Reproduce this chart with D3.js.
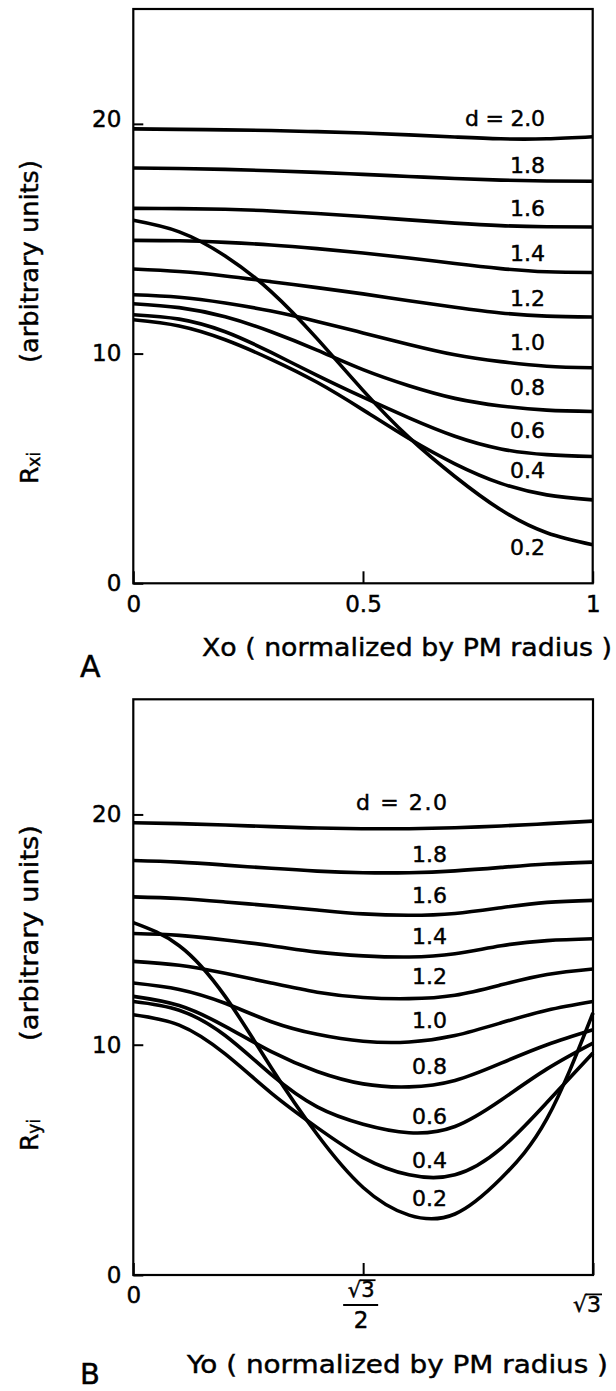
<!DOCTYPE html>
<html><head><meta charset="utf-8">
<script src="https://cdn.jsdelivr.net/npm/d3@7"></script>
<style>body{margin:0;background:#fff}svg{display:block}svg text{stroke:#000;stroke-width:0.45px}</style>
</head><body>
<svg id="c" width="616" height="1391"></svg>
<script>
// ---------- DATA ----------
const dValues = ["2.0","1.8","1.6","1.4","1.2","1.0","0.8","0.6","0.4","0.2"];
const curveLabels = ["d = 2.0","1.8","1.6","1.4","1.2","1.0","0.8","0.6","0.4","0.2"];

// Panel A: Xo (normalized by PM radius)
const xoA = [0, 0.1, 0.2, 0.3, 0.4, 0.5, 0.6, 0.7, 0.8, 0.9, 1.0];
const rxA_20 = [19.78, 19.76, 19.74, 19.71, 19.66, 19.60, 19.52, 19.43, 19.35, 19.35, 19.44];
const rxA_18 = [18.08, 18.06, 18.02, 17.96, 17.89, 17.80, 17.71, 17.62, 17.55, 17.51, 17.50];
const rxA_16 = [16.32, 16.31, 16.28, 16.21, 16.10, 15.97, 15.82, 15.68, 15.57, 15.52, 15.51];
const rxA_14 = [14.93, 14.91, 14.84, 14.73, 14.57, 14.38, 14.16, 13.92, 13.70, 13.56, 13.53];
const rxA_12 = [13.68, 13.57, 13.38, 13.13, 12.87, 12.60, 12.30, 12.02, 11.77, 11.63, 11.59];
const rxA_10 = [12.56, 12.45, 12.20, 11.85, 11.40, 10.90, 10.40, 9.95, 9.65, 9.45, 9.38];
const rxA_08 = [12.17, 12.00, 11.60, 10.95, 10.15, 9.30, 8.60, 8.05, 7.72, 7.54, 7.48];
const rxA_06 = [11.69, 11.50, 10.95, 10.05, 9.05, 8.10, 7.20, 6.40, 5.85, 5.60, 5.52];
const rxA_04 = [11.47, 11.20, 10.60, 9.75, 8.75, 7.55, 6.30, 5.20, 4.35, 3.85, 3.63];
const rxA_02 = [15.80, 15.30, 14.25, 12.70, 10.65, 8.40, 6.35, 4.65, 3.20, 2.20, 1.68];

// Panel B: Yo (normalized by PM radius), 0 .. sqrt(3)
const yoB = [0, 0.173, 0.346, 0.520, 0.693, 0.866, 1.039, 1.212, 1.386, 1.559, 1.732];
const ryB_20 = [19.64, 19.60, 19.54, 19.47, 19.41, 19.38, 19.38, 19.42, 19.50, 19.60, 19.71];
const ryB_18 = [18.00, 17.93, 17.80, 17.66, 17.54, 17.47, 17.47, 17.55, 17.70, 17.85, 17.93];
const ryB_16 = [16.42, 16.35, 16.20, 16.03, 15.85, 15.68, 15.62, 15.70, 15.95, 16.18, 16.27];
const ryB_14 = [14.83, 14.75, 14.55, 14.30, 14.02, 13.86, 13.81, 13.95, 14.30, 14.52, 14.60];
const ryB_12 = [13.62, 13.45, 13.10, 12.68, 12.28, 12.05, 12.00, 12.15, 12.60, 13.05, 13.29];
const ryB_10 = [12.68, 12.40, 11.80, 11.00, 10.45, 10.15, 10.12, 10.40, 10.95, 11.50, 11.88];
const ryB_08 = [12.10, 11.70, 10.80, 9.70, 8.84, 8.30, 8.17, 8.45, 9.20, 10.00, 10.65];
const ryB_06 = [11.88, 11.50, 10.40, 8.70, 7.30, 6.55, 6.18, 6.45, 7.60, 8.95, 10.07];
const ryB_04 = [11.30, 10.85, 9.60, 7.90, 6.40, 5.10, 4.35, 4.35, 5.50, 7.50, 9.64];
const ryB_02 = [15.30, 14.30, 12.10, 9.00, 6.10, 3.80, 2.60, 2.65, 4.20, 6.80, 11.38];

const yTickValues = [0, 10, 20];
const xTickValuesA = [0, 0.5, 1];
const xTickLabelsA = ["0", "0.5", "1"];

// ---------- LAYOUT ----------
const FONT = "'DejaVu Sans', sans-serif";
const svg = d3.select("#c");

function drawPanel(cfg) {
  const x = d3.scaleLinear().domain(cfg.xDomain).range([cfg.left, cfg.right]);
  const y = d3.scaleLinear().domain([0, 25]).range([cfg.bottom, cfg.top]);

  // curves
  const line = d3.line()
    .x((d, i) => x(cfg.xs[i]))
    .y(d => y(d))
    .curve(d3.curveNatural);
  svg.append("g").selectAll("path").data(cfg.series).join("path")
    .attr("d", d => line(d))
    .attr("fill", "none").attr("stroke", "#000")
    .attr("stroke-width", 3.6).attr("stroke-linejoin", "round");

  // frame
  svg.append("rect")
    .attr("x", cfg.left).attr("y", cfg.top)
    .attr("width", cfg.right - cfg.left).attr("height", cfg.bottom - cfg.top)
    .attr("fill", "none").attr("stroke", "#000").attr("stroke-width", 2.2);

  // y axis
  const gy = svg.append("g").attr("transform", `translate(${cfg.left},0)`)
    .call(d3.axisLeft(y).tickValues(yTickValues).tickSizeInner(-10).tickSizeOuter(0)
      .tickPadding(12).tickFormat(d => d));
  gy.select(".domain").remove();
  gy.selectAll(".tick line").attr("stroke-width", 2);
  gy.selectAll("text").attr("font-size", 23).attr("font-family", FONT).attr("fill", "#000")
    .attr("dy", d => d === 20 ? (cfg.y20dy || "0.32em") : "0.32em");

  // x axis
  const gx = svg.append("g").attr("transform", `translate(0,${cfg.bottom})`)
    .call(d3.axisBottom(x).tickValues(cfg.xTicks).tickSizeInner(-12).tickSizeOuter(0)
      .tickPadding(12).tickFormat((d, i) => cfg.xTickText ? cfg.xTickText[i] : ""));
  gx.select(".domain").remove();
  gx.selectAll(".tick line").attr("stroke-width", 2);
  gx.selectAll("text").attr("font-size", 23).attr("font-family", FONT).attr("fill", "#000");

  // curve labels
  svg.append("g").selectAll("text").data(curveLabels).join("text")
    .attr("x", cfg.labelX)
    .attr("y", (d, i) => y(cfg.labelPos[i]))
    .attr("dy", "0.36em")
    .attr("text-anchor", "end")
    .attr("font-family", FONT).attr("font-size", 22)
    .attr("textLength", (d, i) => i === 0 ? cfg.dLabelLen : null)
    .attr("lengthAdjust", "spacing")
    .text(d => d);

  return {x, y};
}

// Panel A
const A = drawPanel({
  left: 133.3, right: 592.7, top: 9, bottom: 583.3,
  xDomain: [0, 1], xs: xoA,
  series: [rxA_20, rxA_18, rxA_16, rxA_14, rxA_12, rxA_10, rxA_08, rxA_06, rxA_04, rxA_02],
  xTicks: xTickValuesA, xTickText: xTickLabelsA,
  labelX: 545,
  labelPos: [20.27, 18.22, 16.35, 14.39, 12.43, 10.52, 8.56, 6.68, 4.93, 1.58],
  dLabelLen: 80, y20dy: "0.1em"
});

// Panel B
const B = drawPanel({
  left: 133.3, right: 593, top: 699.3, bottom: 1275,
  xDomain: [0, Math.sqrt(3)], xs: yoB,
  series: [ryB_20, ryB_18, ryB_16, ryB_14, ryB_12, ryB_10, ryB_08, ryB_06, ryB_04, ryB_02],
  xTicks: [0, Math.sqrt(3) / 2, Math.sqrt(3)], xTickText: ["0", "", ""],
  labelX: 447,
  labelPos: [20.52, 18.26, 16.48, 14.70, 13.0, 11.09, 9.09, 6.91, 5.0, 3.35],
  dLabelLen: 91
});

// sqrt(3)/2 and sqrt(3) tick labels for panel B
function rootThree(cx, baseline, fs) {
  const t = svg.append("text").attr("x", cx).attr("y", baseline)
    .attr("text-anchor", "middle").attr("font-family", FONT).attr("font-size", fs).text("√3");
  const node = t.node();
  const total = node.getComputedTextLength();
  const wr = node.getSubStringLength(0, 1);
  const x0 = cx - total / 2;
  svg.append("line").attr("x1", x0 + wr - 1.5).attr("x2", x0 + total + 1)
    .attr("y1", baseline - fs * 0.80).attr("y2", baseline - fs * 0.80)
    .attr("stroke", "#000").attr("stroke-width", 1.8);
}
const xHalf = B.x(Math.sqrt(3) / 2);
rootThree(xHalf - 2, 1297, 21);
svg.append("line").attr("x1", xHalf - 20).attr("x2", xHalf + 15)
  .attr("y1", 1305).attr("y2", 1305).attr("stroke", "#000").attr("stroke-width", 2);
svg.append("text").attr("x", xHalf - 2).attr("y", 1328).attr("text-anchor", "middle")
  .attr("font-family", FONT).attr("font-size", 23).text("2");
rootThree(B.x(Math.sqrt(3)) - 6, 1312, 22);

// axis titles
function xTitle(txt, xStart, baseline, len) {
  svg.append("text").attr("x", xStart).attr("y", baseline)
    .attr("font-family", FONT).attr("font-size", 25)
    .attr("textLength", len).attr("lengthAdjust", "spacingAndGlyphs")
    .text(txt);
}
xTitle("Xo ( normalized by PM radius )", 202, 656, 410);
xTitle("Yo ( normalized by PM radius )", 187, 1373, 421);

function yTitle(sub, rStart, parStart, parLen) {
  const t = svg.append("text").attr("transform", `translate(38,${rStart}) rotate(-90)`)
    .attr("font-family", FONT).attr("font-size", 25);
  t.append("tspan").text("R");
  t.append("tspan").attr("font-size", 17).attr("dy", 2).text(sub);
  svg.append("text").attr("transform", `translate(38,${parStart}) rotate(-90)`)
    .attr("font-family", FONT).attr("font-size", 25)
    .attr("textLength", parLen).attr("lengthAdjust", "spacingAndGlyphs")
    .text("(arbitrary units)");
}
yTitle("xi", 484, 363, 203);
yTitle("yi", 1151, 1041, 216);

// panel letters
svg.append("text").attr("x", 80).attr("y", 677).attr("font-family", FONT).attr("font-size", 30).text("A");
svg.append("text").attr("x", 80).attr("y", 1384).attr("font-family", FONT).attr("font-size", 29).text("B");
</script>
</body></html>
